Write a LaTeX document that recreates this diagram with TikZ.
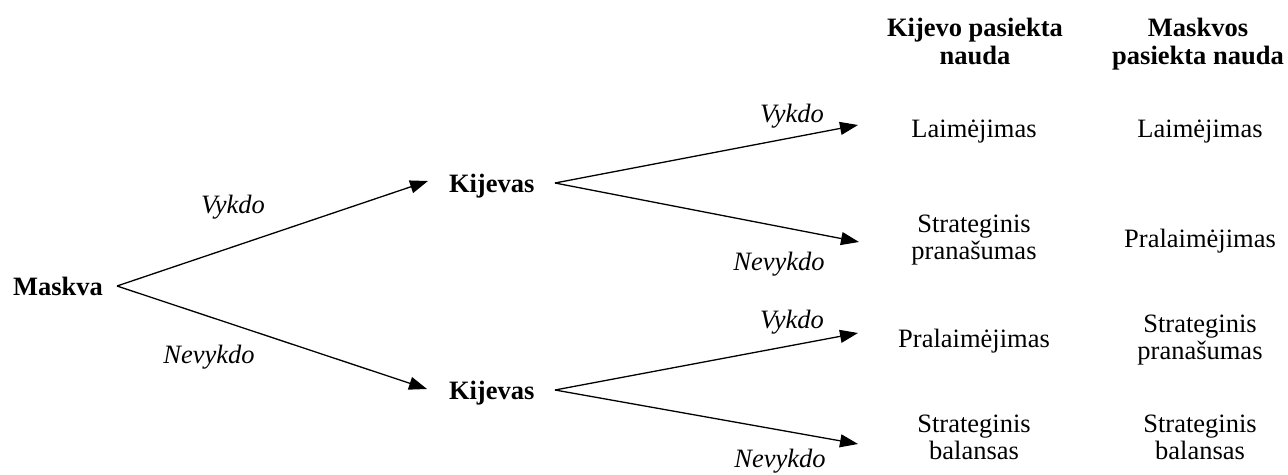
\documentclass[tikz,border=0pt]{standalone}
\usepackage{fontspec}
\setmainfont{Liberation Serif}
\usetikzlibrary{arrows.meta}
\begin{document}
\begin{tikzpicture}[x=1pt,y=-1pt,
  every node/.style={inner sep=0pt,outer sep=0pt},
  txt/.style={font=\fontsize{26.5}{27}\selectfont,align=center,anchor=base},
  bld/.style={txt,font=\fontsize{26.5}{28}\selectfont\bfseries},
  lbl/.style={txt,font=\fontsize{26.5}{27}\selectfont\itshape},
  arr/.style={line width=1.3pt,-{Triangle[length=18pt,width=13pt]}}]
\useasboundingbox (0,0) rectangle (1288,474);
% headers
\node[bld] (h1) at (975,64) {Kijevo pasiekta\\nauda};
\node[bld] (h2) at (1198,64) {Maskvos\\pasiekta nauda};
% players
\node[bld,anchor=base west] (m) at (13,295) {Maskva};
\node[bld,anchor=base west] (k1) at (449,192) {Kijevas};
\node[bld,anchor=base west] (k2) at (449,399) {Kijevas};
% fork points and tips
\coordinate (mo) at (117,286);
\coordinate (k1i) at (428,181);
\coordinate (k2i) at (427,389);
\coordinate (k1o) at (555,183);
\coordinate (k2o) at (555,390);
\coordinate (t1) at (858,125);
\coordinate (t2) at (859,242);
\coordinate (t3) at (858,333);
\coordinate (t4) at (858,444);
\draw[arr] (mo) -- (k1i);
\draw[arr] (mo) -- (k2i);
\draw[arr] (k1o) -- (t1);
\draw[arr] (k1o) -- (t2);
\draw[arr] (k2o) -- (t3);
\draw[arr] (k2o) -- (t4);
% edge labels
\node[lbl] (l1) at (233,213) {Vykdo};
\node[lbl] (l2) at (209,363) {Nevykdo};
\node[lbl] (l3) at (792,122) {Vykdo};
\node[lbl] (l4) at (779,270) {Nevykdo};
\node[lbl] (l5) at (792,328) {Vykdo};
\node[lbl] (l6) at (780,467) {Nevykdo};
% outcomes
\node[txt] (a1) at (974,137) {Laimėjimas};
\node[txt] (b1) at (1200,137) {Laimėjimas};
\node[txt] (a2) at (974,259) {Strateginis\\pranašumas};
\node[txt] (b2) at (1200,247) {Pralaimėjimas};
\node[txt] (a3) at (974,347) {Pralaimėjimas};
\node[txt] (b3) at (1200,359) {Strateginis\\pranašumas};
\node[txt] (a4) at (974,459) {Strateginis\\balansas};
\node[txt] (b4) at (1200,459) {Strateginis\\balansas};
\end{tikzpicture}
\end{document}
